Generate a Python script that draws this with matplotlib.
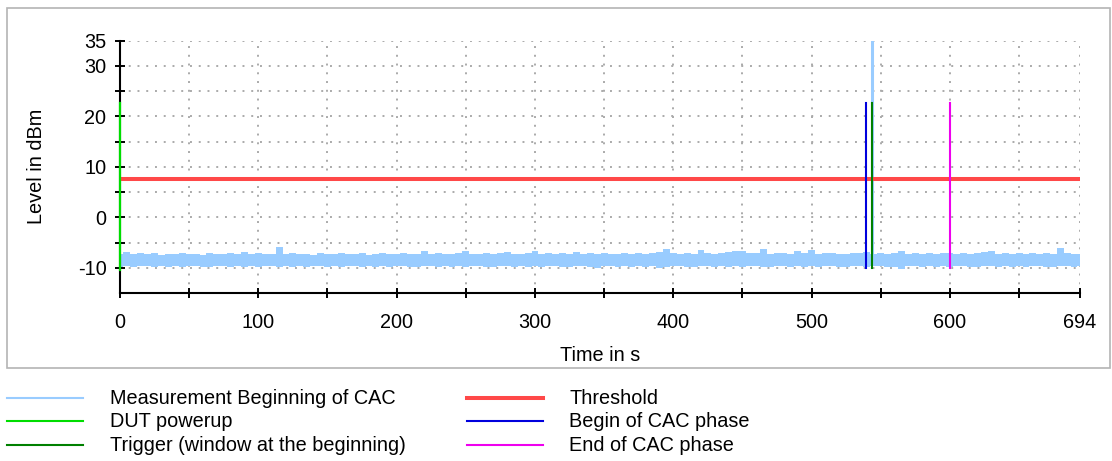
import numpy as np
import matplotlib
matplotlib.use("Agg")
import matplotlib.pyplot as plt
from matplotlib.lines import Line2D
from matplotlib.patches import Rectangle

plt.rcParams['font.family'] = ['Liberation Sans', 'DejaVu Sans']

# measurement trace, summarised as max / min level per 5 s bin (dBm)
time_s = np.append(np.arange(0, 691, 5), 694)
level_max = [
    -7.3, -6.8, -7.2, -7.0, -7.3, -7.1, -7.4, -7.2, -7.3, -7.1,
    -7.3, -7.2, -7.4, -7.1, -7.3, -7.2, -7.0, -7.3, -6.9, -7.2,
    -7.1, -7.3, -7.2, -5.9, -7.2, -7.0, -7.3, -7.2, -7.4, -7.1,
    -7.2, -7.3, -7.0, -7.2, -7.3, -7.1, -7.4, -7.2, -7.0, -7.3,
    -7.2, -7.1, -7.3, -7.2, -6.7, -7.2, -7.0, -7.3, -7.2, -7.1,
    -6.6, -7.2, -7.3, -7.0, -7.2, -7.1, -6.8, -7.3, -7.2, -7.0,
    -6.6, -7.2, -7.1, -7.3, -7.0, -7.2, -6.9, -7.3, -7.1, -7.2,
    -7.0, -7.3, -7.2, -7.1, -7.3, -7.0, -7.2, -7.1, -6.9, -6.3,
    -7.0, -7.2, -7.1, -7.3, -6.4, -7.0, -7.2, -7.1, -6.9, -6.7,
    -6.7, -7.1, -7.0, -6.2, -7.2, -7.0, -7.1, -7.3, -6.6, -7.1,
    -6.5, -7.2, -7.1, -7.0, -7.3, -7.2, -7.1, -7.0, -6.8, -7.2,
    -7.0, -7.3, -7.1, -6.6, -7.2, -7.0, -7.3, -7.1, -7.2, -7.0,
    -7.1, -7.3, -7.0, -7.2, -7.1, -6.9, -6.7, -7.2, -7.0, -7.3,
    -7.1, -7.2, -7.0, -7.3, -7.1, -7.2, -6.0, -7.1, -7.2, -7.3,
]
level_min = [
    -9.8, -9.6, -9.9, -9.7, -9.6, -9.8, -9.7, -9.9, -9.6, -9.8,
    -9.7, -9.6, -9.8, -9.9, -9.7, -9.6, -9.8, -9.7, -9.9, -9.6,
    -9.8, -9.7, -9.6, -9.8, -9.7, -9.9, -9.6, -9.8, -9.7, -9.6,
    -9.8, -9.7, -9.9, -9.6, -9.7, -9.8, -9.6, -9.9, -9.7, -9.8,
    -9.6, -9.7, -9.9, -9.8, -9.6, -9.7, -9.8, -9.6, -9.9, -9.7,
    -9.8, -9.6, -9.7, -9.9, -9.8, -9.6, -9.7, -9.8, -9.6, -9.9,
    -9.7, -9.8, -9.6, -9.7, -9.9, -9.8, -9.6, -9.7, -9.8, -10.1,
    -9.7, -9.6, -9.8, -9.7, -9.9, -9.6, -9.8, -9.7, -10.1, -9.8,
    -9.6, -9.7, -9.9, -9.8, -9.6, -9.7, -9.8, -9.6, -9.9, -9.7,
    -9.8, -9.6, -9.7, -9.9, -9.8, -9.6, -9.7, -9.8, -9.6, -9.9,
    -9.7, -9.8, -9.6, -9.7, -9.9, -9.8, -9.6, -9.7, -9.8, -9.6,
    -9.7, -9.9, -9.8, -10.2, -9.6, -9.7, -9.8, -9.6, -9.9, -9.7,
    -9.8, -9.6, -9.7, -9.9, -9.8, -9.6, -9.7, -9.8, -9.6, -9.9,
    -9.7, -9.8, -9.6, -9.7, -9.9, -9.8, -9.6, -9.7, -9.8, -9.7,
]
# single overload peak in the measurement
peak_t = 544
peak_level = 34.8

threshold = 7.5
marker_bottom = -10.1
marker_top = 22.6
dut_powerup_t = 0
trigger_t = 544
cac_begin_t = 539
cac_end_t = 600

c_meas = '#99ccff'
c_dut = '#00dd00'
c_trig = '#008000'
c_thr = '#ff4848'
c_begin = '#0000dd'
c_end = '#ee00ee'

FS = 14.3

fig = plt.figure(figsize=(11.12, 4.61), dpi=100)
ax = fig.add_axes([0.1079, 0.3644, 0.8633, 0.5477])

ax.fill_between(time_s, level_min, level_max, step='mid', color=c_meas, lw=0, zorder=2)
ax.plot([peak_t, peak_t], [level_max[-1], peak_level], color=c_meas, lw=2.2, zorder=2)
ax.axhline(threshold, color=c_thr, lw=2.9, zorder=3)
ax.plot([dut_powerup_t] * 2, [-10.5, marker_top], color=c_dut, lw=1.6, zorder=5, clip_on=False)
ax.plot([cac_begin_t] * 2, [marker_bottom, marker_top], color=c_begin, lw=1.5, zorder=4)
ax.plot([trigger_t] * 2, [marker_bottom, marker_top], color=c_trig, lw=1.5, zorder=4)
ax.plot([cac_end_t] * 2, [marker_bottom, marker_top], color=c_end, lw=1.5, zorder=4)

ax.set_xlim(0, 694)
ax.set_ylim(-15, 35)

xt = list(range(0, 651, 50)) + [694]
ax.set_xticks(xt)
ax.set_xticklabels([str(v) if v % 100 == 0 or v == 694 else '' for v in xt])
yt = list(range(-10, 36, 5))
ax.set_yticks(yt)
ax.set_yticklabels([str(v) if v in (-10, 0, 10, 20, 30, 35) else '' for v in yt])

ax.grid(True, linestyle=(0, (1, 3.5)), color='#aaaaaa', lw=1.4, zorder=1)
for s in ('top', 'right'):
    ax.spines[s].set_visible(False)
for s in ('left', 'bottom'):
    ax.spines[s].set_linewidth(1.5)
ax.tick_params(direction='inout', length=7.5, width=1.4, labelsize=FS, colors='black')
ax.tick_params(axis='x', pad=11)
ax.tick_params(axis='y', pad=6)

ax.set_xlabel('Time in s', fontsize=FS, labelpad=10)
ax.set_ylabel('Level in dBm', fontsize=FS, labelpad=23)

# frame around the plot area
fig.add_artist(Rectangle((7 / 1112, 1 - 368 / 461), 1103 / 1112, 360 / 461,
                         transform=fig.transFigure, fill=False,
                         edgecolor='#b4b4b4', lw=1.2))

# legend below the frame, two columns
entries = [
    ('Measurement Beginning of CAC', c_meas, 1.5),
    ('DUT powerup', c_dut, 1.5),
    ('Trigger (window at the beginning)', c_trig, 1.5),
    ('Threshold', c_thr, 2.9),
    ('Begin of CAC phase', c_begin, 1.5),
    ('End of CAC phase', c_end, 1.5),
]
rows_y = [398, 421, 445]
cols_x = [(7, 83, 110), (467, 543, 569)]
for k, (label, color, lw) in enumerate(entries):
    x0, x1, xt_ = cols_x[k // 3]
    y = 1 - rows_y[k % 3] / 461
    fig.add_artist(Line2D([x0 / 1112, x1 / 1112], [y, y], transform=fig.transFigure,
                          color=color, lw=lw))
    fig.text(xt_ / 1112, y, label, fontsize=FS, va='center', ha='left')

fig.savefig('out.png', dpi=100)
